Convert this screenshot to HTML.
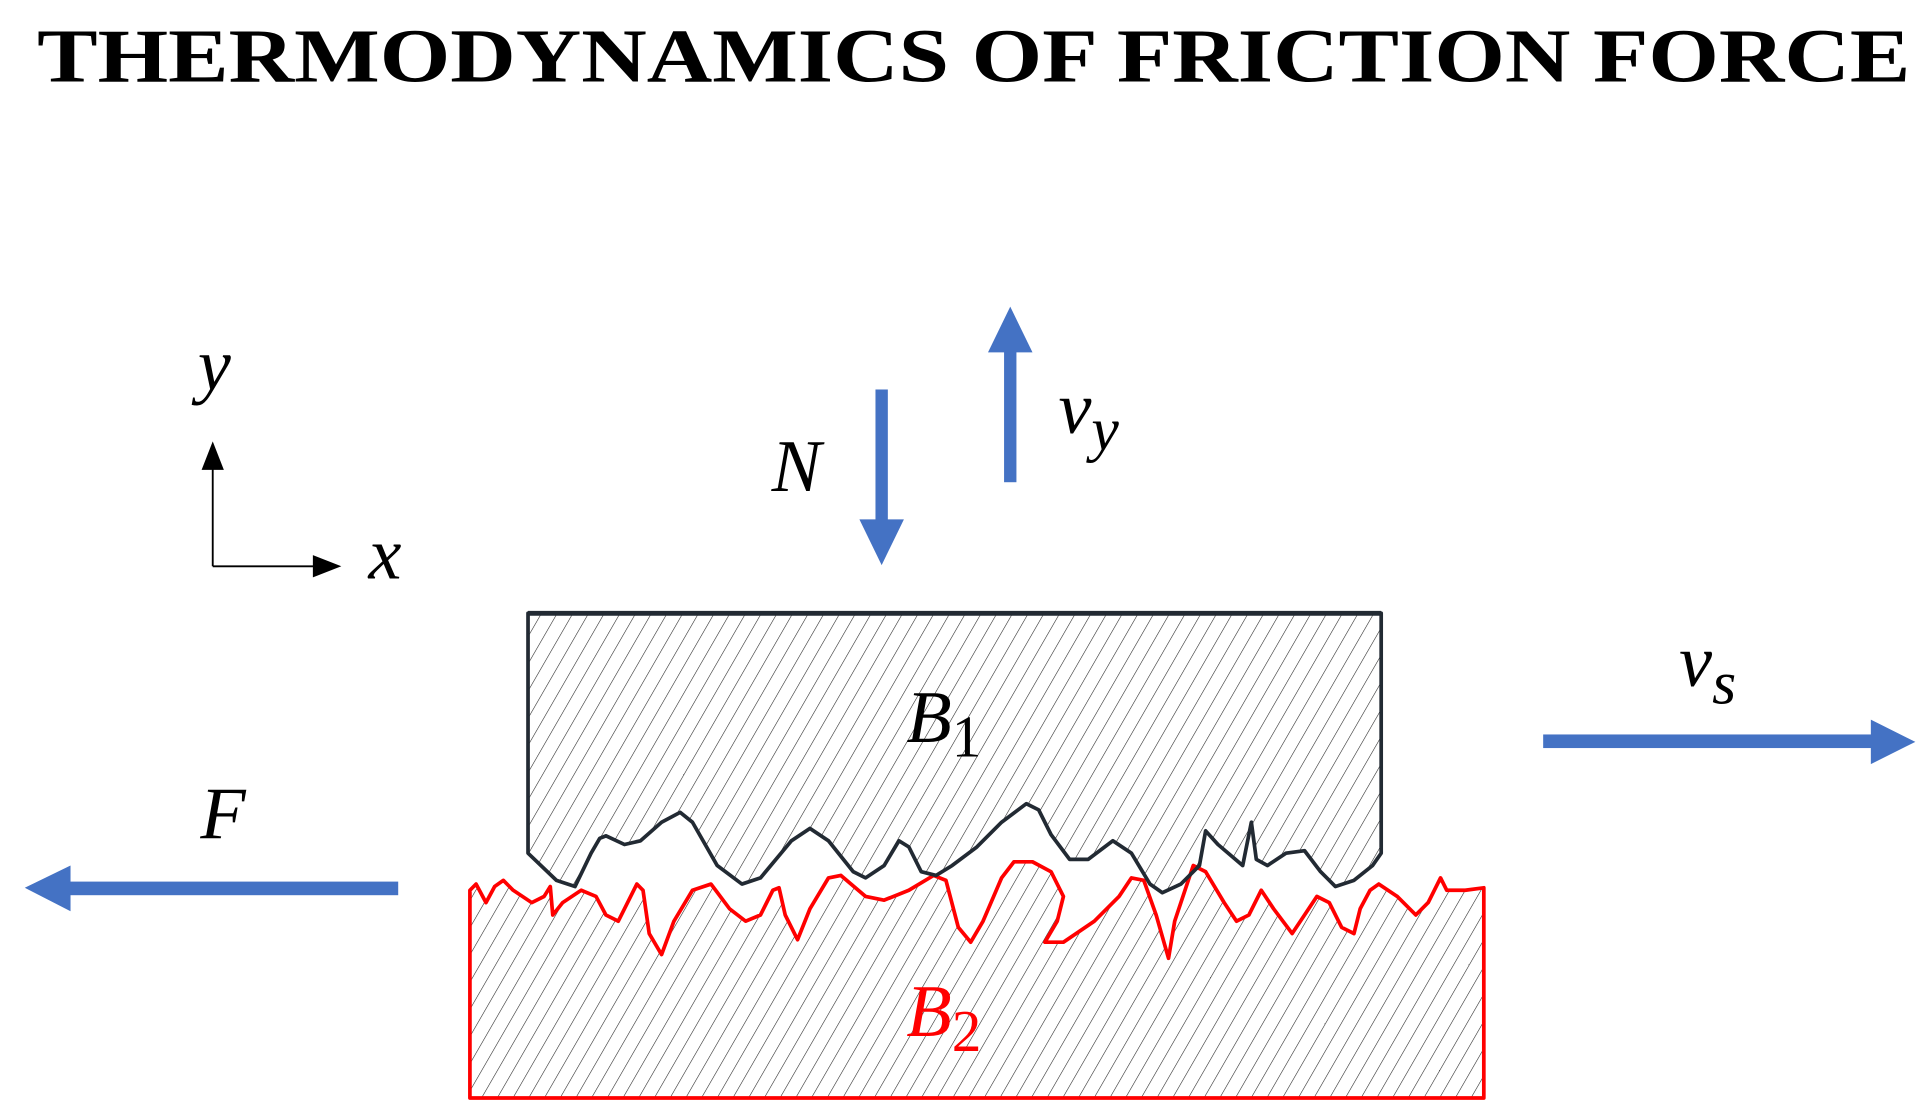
<!DOCTYPE html>
<html><head><meta charset="utf-8"><style>
html,body{margin:0;padding:0;background:#fff;}
svg{display:block;}
</style></head><body>
<svg width="1929" height="1119" viewBox="0 0 1560 905" xmlns="http://www.w3.org/2000/svg">
<defs>
<pattern id="h" patternUnits="userSpaceOnUse" width="11" height="11" patternTransform="rotate(30)">
<line x1="0" y1="0" x2="0" y2="11" stroke="#222" stroke-width="0.9"/>
</pattern>
</defs>
<rect width="1560" height="905" fill="#fff"/>
<text x="30" y="66" font-family="Liberation Serif, serif" font-weight="bold" font-size="62" textLength="1515" lengthAdjust="spacingAndGlyphs">THERMODYNAMICS OF FRICTION FORCE</text>

<!-- B2 -->
<path d="M380,888 L380,720 L385,715 L393,730 L400,717 L407,712 L415,720 L430,730 L440,725 L445,717 L447,740 L455,730 L470,720 L482,725 L490,740 L500,745 L510,725 L515,715 L520,720 L525,755 L535,772 L545,745 L560,720 L575,715 L590,735 L603,745 L615,740 L625,720 L630,718 L635,740 L645,760 L655,735 L670,710 L680,708 L700,725 L715,728 L735,720 L755,708 L765,712 L775,750 L785,762 L795,745 L810,710 L820,697 L835,697 L850,705 L860,725 L855,745 L845,762 L860,762 L885,745 L905,725 L915,710 L925,712 L935,740 L945,775 L950,745 L960,715 L965,700 L975,705 L990,730 L1000,745 L1010,740 L1020,720 L1030,735 L1045,755 L1055,740 L1065,725 L1075,730 L1085,750 L1095,755 L1100,735 L1108,720 L1115,715 L1130,725 L1145,740 L1155,730 L1165,710 L1170,720 L1185,720 L1200,718 L1200,888 Z" fill="url(#h)" stroke="#f00" stroke-width="3" stroke-linejoin="round"/>
<!-- B1 -->
<path d="M427,496 L1117,496 L1117,690 L1110,700 L1095,712 L1080,717 L1068,705 L1055,688 L1040,690 L1025,700 L1016,695 L1012,665 L1005,700 L985,683 L975,672 L970,700 L955,715 L940,722 L930,715 L915,690 L900,680 L880,695 L865,695 L850,675 L840,655 L830,650 L810,665 L790,685 L770,700 L757,708 L745,705 L735,685 L727,680 L715,700 L700,710 L690,705 L670,680 L655,670 L640,680 L615,710 L600,715 L580,700 L560,665 L550,657 L535,665 L518,680 L505,683 L490,676 L485,678 L478,690 L465,717 L450,712 L427,690 Z" fill="url(#h)" stroke="#222a33" stroke-width="3" stroke-linejoin="round"/>
<line x1="427" y1="496" x2="1117" y2="496" stroke="#222a33" stroke-width="4"/>

<g font-family="Liberation Serif, serif" font-style="italic" font-size="60">
<text x="733" y="600">B<tspan font-style="normal" font-size="48" dy="12">1</tspan></text>
<text x="733" y="838" fill="#f00">B<tspan font-style="normal" font-size="48" dy="12">2</tspan></text>
<text x="624" y="397">N</text>
<text x="856" y="350">v<tspan font-size="50" dy="14">y</tspan></text>
<text x="1358" y="555">v<tspan font-size="50" dy="14">s</tspan></text>
<text x="162" y="678">F</text>
<text x="160" y="315">y</text>
<text x="298" y="468">x</text>
</g>

<!-- axes -->
<line x1="172" y1="458" x2="172" y2="378" stroke="#000" stroke-width="1.5"/>
<polygon points="172,357 163,380 181,380" fill="#000"/>
<line x1="172" y1="458" x2="256" y2="458" stroke="#000" stroke-width="1.5"/>
<polygon points="276,458 253,449 253,467" fill="#000"/>

<!-- blue arrows -->
<g fill="#4472c4">
<rect x="708" y="315" width="10" height="107"/>
<polygon points="713,457 695,420 731,420"/>
<rect x="812" y="283" width="10" height="107"/>
<polygon points="817,248 799,285 835,285"/>
<rect x="55" y="713" width="267" height="11"/>
<polygon points="20,718 57,700 57,737"/>
<rect x="1248" y="594" width="268" height="11"/>
<polygon points="1549,600 1513,582 1513,618"/>
</g>
</svg>
</body></html>
